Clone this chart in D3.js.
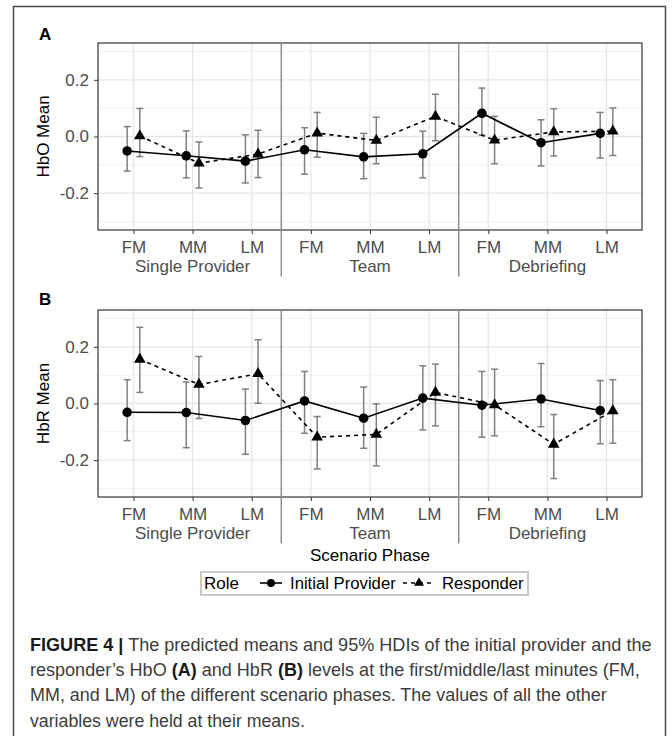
<!DOCTYPE html>
<html>
<head>
<meta charset="utf-8">
<script src="https://cdn.jsdelivr.net/npm/d3@7"></script>
<style>
  body { margin: 0; background: #fff; }
  svg { display: block; font-family: "Liberation Sans", Arial, sans-serif; }
</style>
</head>
<body>
<div id="chart"></div>
<script>
/* global d3 */

// categories
var phases = ['Single Provider', 'Team', 'Debriefing'];
var minutes = ['FM', 'MM', 'LM'];
var roles = ['Initial Provider', 'Responder'];
var yTicks = [-0.2, 0, 0.2];

// HbO (panel A)
var hboProvMean = [-0.051, -0.068, -0.087, -0.047, -0.072, -0.061, 0.082, -0.022, 0.011];
var hboProvLow = [-0.122, -0.146, -0.164, -0.133, -0.149, -0.146, 0.005, -0.104, -0.076];
var hboProvHigh = [0.035, 0.020, 0.006, 0.031, 0.011, 0.019, 0.171, 0.059, 0.085];
var hboRespMean = [0.002, -0.094, -0.062, 0.012, -0.014, 0.071, -0.013, 0.016, 0.019];
var hboRespLow = [-0.071, -0.182, -0.145, -0.073, -0.096, -0.015, -0.096, -0.069, -0.067];
var hboRespHigh = [0.099, -0.019, 0.022, 0.085, 0.068, 0.149, 0.071, 0.098, 0.101];

// HbR (panel B)
var hbrProvMean = [-0.031, -0.032, -0.060, 0.009, -0.052, 0.019, -0.006, 0.016, -0.025];
var hbrProvLow = [-0.131, -0.156, -0.179, -0.105, -0.158, -0.093, -0.119, -0.082, -0.142];
var hbrProvHigh = [0.084, 0.076, 0.051, 0.113, 0.058, 0.133, 0.113, 0.141, 0.081];
var hbrRespMean = [0.156, 0.067, 0.105, -0.119, -0.109, 0.039, -0.005, -0.144, -0.026];
var hbrRespLow = [0.039, -0.053, 0.001, -0.231, -0.220, -0.079, -0.114, -0.265, -0.140];
var hbrRespHigh = [0.269, 0.166, 0.225, -0.046, -0.001, 0.139, 0.121, -0.039, 0.084];

var W = 672, H = 736;
var left = 98, right = 642, ph = 187;
var dodge = 0.107;
var fs = 17;

var svg = d3.select('#chart').append('svg')
  .attr('width', W).attr('height', H);

// outer figure frame
svg.append('rect')
  .attr('x', 13.5).attr('y', 6.5)
  .attr('width', 652).attr('height', 745)
  .attr('fill', 'none').attr('stroke', '#4a4a4a').attr('stroke-width', 1.5);

var x = d3.scaleLinear().domain([0.4, 9.6]).range([left, right]);

function series(mean, low, high, off) {
  return mean.map(function (m, i) {
    return { x: i + 1 + off, y: m, lo: low[i], hi: high[i] };
  });
}

var panels = [
  { label: 'A', title: 'HbO Mean', top: 43,
    prov: series(hboProvMean, hboProvLow, hboProvHigh, -dodge),
    resp: series(hboRespMean, hboRespLow, hboRespHigh, dodge) },
  { label: 'B', title: 'HbR Mean', top: 310,
    prov: series(hbrProvMean, hbrProvLow, hbrProvHigh, -dodge),
    resp: series(hbrRespMean, hbrRespLow, hbrRespHigh, dodge) }
];

var circle = d3.symbol().type(d3.symbolCircle).size(72);
var tri = d3.symbol().type(d3.symbolTriangle).size(58);

panels.forEach(function (p) {
  var g = svg.append('g').attr('transform', 'translate(0,' + p.top + ')');
  var y = d3.scaleLinear().domain([-0.33, 0.33]).range([ph, 0]);

  g.append('text')
    .attr('x', 39).attr('y', p.label === 'A' ? -3 : -5)
    .attr('font-size', fs).attr('font-weight', 'bold')
    .attr('fill', '#000').text(p.label);

  // minor grid
  g.selectAll('.minor').data([-0.3, -0.1, 0.1, 0.3]).enter().append('line')
    .attr('x1', left).attr('x2', right)
    .attr('y1', d => y(d)).attr('y2', d => y(d))
    .attr('stroke', '#f2f2f2').attr('stroke-width', 1);
  // major grid
  g.selectAll('.hmajor').data(yTicks).enter().append('line')
    .attr('x1', left).attr('x2', right)
    .attr('y1', d => y(d)).attr('y2', d => y(d))
    .attr('stroke', '#e6e6e6').attr('stroke-width', 1.3);
  g.selectAll('.vmajor').data(d3.range(1, 10)).enter().append('line')
    .attr('x1', d => x(d)).attr('x2', d => x(d))
    .attr('y1', 0).attr('y2', ph)
    .attr('stroke', '#e6e6e6').attr('stroke-width', 1.3);

  // axes
  var ya = g.append('g').attr('transform', 'translate(' + left + ',0)')
    .call(d3.axisLeft(y).tickValues(yTicks).tickSize(4).tickPadding(5)
      .tickFormat(d => d.toFixed(1)));
  var xa = g.append('g').attr('transform', 'translate(0,' + ph + ')')
    .call(d3.axisBottom(x).tickValues(d3.range(1, 10)).tickSize(4).tickPadding(7)
      .tickFormat(d => minutes[(d - 1) % 3]));
  [ya, xa].forEach(function (a) {
    a.select('.domain').remove();
    a.selectAll('line').attr('stroke', '#333').attr('stroke-width', 1);
    a.selectAll('text').attr('font-size', fs).attr('fill', '#4d4d4d')
      .attr('font-family', '"Liberation Sans", Arial, sans-serif');
  });

  // phase labels
  g.selectAll('.phase').data(phases).enter().append('text')
    .attr('x', (d, i) => x(i * 3 + 2)).attr('y', ph + 41.5)
    .attr('text-anchor', 'middle').attr('font-size', fs).attr('fill', '#4d4d4d')
    .text(d => d);

  // y title
  g.append('text')
    .attr('transform', 'translate(49,' + (ph / 2) + ') rotate(-90)')
    .attr('text-anchor', 'middle').attr('font-size', fs).attr('fill', '#000')
    .text(p.title);

  // panel border
  g.append('rect').attr('x', left).attr('y', 0)
    .attr('width', right - left).attr('height', ph)
    .attr('fill', 'none').attr('stroke', '#333').attr('stroke-width', 1.2);

  // phase separators
  g.selectAll('.sep').data([3.5, 6.5]).enter().append('line')
    .attr('x1', d => x(d)).attr('x2', d => x(d))
    .attr('y1', 0).attr('y2', ph + 46.5)
    .attr('stroke', '#8c8c8c').attr('stroke-width', 1.5);

  // error bars
  [p.prov, p.resp].forEach(function (s) {
    var eb = g.append('g').attr('stroke', '#808080').attr('stroke-width', 1.5).attr('fill', 'none');
    eb.selectAll('.v').data(s).enter().append('line')
      .attr('x1', d => x(d.x)).attr('x2', d => x(d.x))
      .attr('y1', d => y(d.lo)).attr('y2', d => y(d.hi));
    eb.selectAll('.t').data(s).enter().append('line')
      .attr('x1', d => x(d.x) - 3.5).attr('x2', d => x(d.x) + 3.5)
      .attr('y1', d => y(d.hi)).attr('y2', d => y(d.hi));
    eb.selectAll('.b').data(s).enter().append('line')
      .attr('x1', d => x(d.x) - 3.5).attr('x2', d => x(d.x) + 3.5)
      .attr('y1', d => y(d.lo)).attr('y2', d => y(d.lo));
  });

  var line = d3.line().x(d => x(d.x)).y(d => y(d.y));
  g.append('path').datum(p.prov).attr('d', line)
    .attr('fill', 'none').attr('stroke', '#000').attr('stroke-width', 1.6);
  g.append('path').datum(p.resp).attr('d', line)
    .attr('fill', 'none').attr('stroke', '#000').attr('stroke-width', 1.6)
    .attr('stroke-dasharray', '4,4');

  g.selectAll('.pc').data(p.prov).enter().append('path')
    .attr('transform', d => 'translate(' + x(d.x) + ',' + y(d.y) + ')')
    .attr('d', circle).attr('fill', '#000');
  g.selectAll('.pt').data(p.resp).enter().append('path')
    .attr('transform', d => 'translate(' + x(d.x) + ',' + y(d.y) + ')')
    .attr('d', tri).attr('fill', '#000');
});

// x-axis title
svg.append('text')
  .attr('x', (left + right) / 2).attr('y', 560.5)
  .attr('text-anchor', 'middle').attr('font-size', fs).attr('fill', '#000')
  .text('Scenario Phase');

// legend
var lg = svg.append('g');
lg.append('rect').attr('x', 201).attr('y', 572).attr('width', 327).attr('height', 23)
  .attr('fill', '#fff').attr('stroke', '#c8c8c8').attr('stroke-width', 2);
lg.append('text').attr('x', 204).attr('y', 589).attr('font-size', fs).attr('fill', '#000')
  .text('Role');
var keys = [
  { x0: 260, x1: 282, tx: 290, sym: d3.symbol().type(d3.symbolCircle).size(50), dash: null },
  { x0: 403, x1: 435, tx: 442, sym: d3.symbol().type(d3.symbolTriangle).size(42), dash: '4,4' }
];
keys.forEach(function (k, i) {
  lg.append('line').attr('x1', k.x0).attr('x2', k.x1).attr('y1', 583).attr('y2', 583)
    .attr('stroke', '#000').attr('stroke-width', 1.6)
    .attr('stroke-dasharray', k.dash);
  lg.append('path').attr('transform', 'translate(' + (k.x0 + k.x1) / 2 + ',583)')
    .attr('d', k.sym).attr('fill', '#000');
  lg.append('text').attr('x', k.tx).attr('y', 589).attr('font-size', fs - 0.3).attr('fill', '#000')
    .text(roles[i]);
});

// caption: each line squeezed horizontally to the reference width
var capFont = '"Liberation Sans Narrow", "Arial Narrow", "Liberation Sans", sans-serif';
var capLines = [
  { y: 651, w: 622, parts: [['FIGURE 4 |', true], [' The predicted means and 95% HDIs of the initial provider and the', false]] },
  { y: 676, w: 610, parts: [['responder\u2019s HbO ', false], ['(A)', true], [' and HbR ', false], ['(B)', true], [' levels at the first/middle/last minutes (FM,', false]] },
  { y: 701, w: 577, parts: [['MM, and LM) of the different scenario phases. The values of all the other', false]] },
  { y: 727, w: 275, parts: [['variables were held at their means.', false]] }
];
capLines.forEach(function (l) {
  var cg = svg.append('g');
  var t = cg.append('text').attr('x', 0).attr('y', 0)
    .attr('font-size', 18.5).attr('font-family', capFont).attr('fill', '#3c3c3c');
  l.parts.forEach(function (pt) {
    t.append('tspan').attr('font-weight', pt[1] ? 'bold' : null)
      .attr('fill', pt[1] ? '#1a1a1a' : null).text(pt[0]);
  });
  var nat = t.node().getComputedTextLength();
  cg.attr('transform', 'translate(30,' + l.y + ') scale(' + (l.w / nat) + ',1)');
});
</script>
</body>
</html>
